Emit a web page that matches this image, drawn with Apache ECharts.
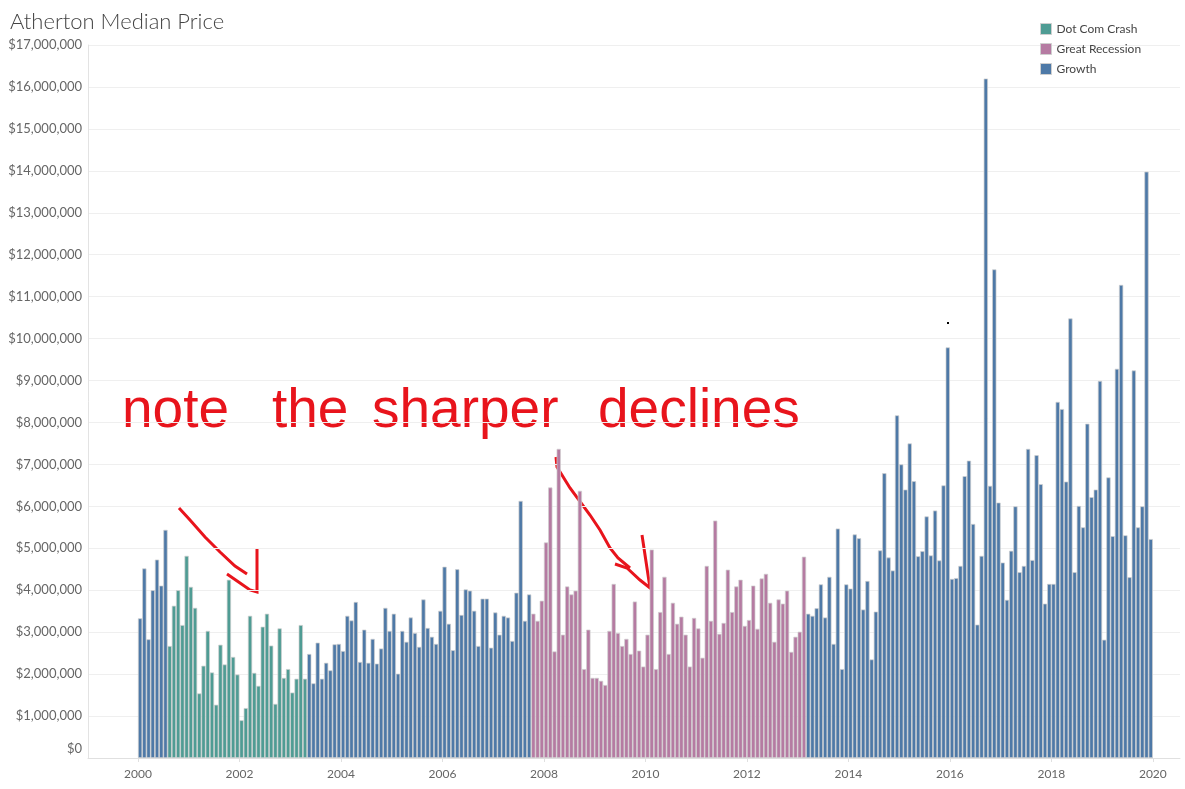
<!DOCTYPE html>
<html>
<head>
<meta charset="utf-8">
<script src="https://cdn.jsdelivr.net/npm/echarts@6/dist/echarts.min.js"></script>
<style>html,body{margin:0;padding:0;background:#fff}#c{width:1185px;height:789px}</style>
</head>
<body>
<div id="c"></div>
<script>
// Monthly median price (millions USD), Jan 2000 .. Dec 2019
const startYear = 2000;
const priceMillions = [
  3.33,4.52,2.83,4.00,4.73,4.11,5.44,2.67,3.63,4.00,3.17,4.82, // 2000
  4.08,3.58,1.54,2.20,3.03,2.04,1.27,2.70,2.23,4.25,2.41,1.99, // 2001
  0.90,1.19,3.39,2.03,1.72,3.13,3.44,2.68,1.29,3.09,1.91,2.12, // 2002
  1.56,1.89,3.17,1.89,2.48,1.78,2.75,1.89,2.27,2.09,2.71,2.72, // 2003
  2.55,3.39,3.28,3.72,2.29,3.06,2.27,2.84,2.25,2.61,3.58,3.03, // 2004
  3.44,2.01,3.03,2.77,3.35,2.98,2.65,3.78,3.10,2.89,2.72,3.51, // 2005
  4.56,3.20,2.57,4.50,3.41,4.02,3.99,3.51,2.67,3.80,3.80,2.63, // 2006
  3.47,2.94,3.39,3.35,2.79,3.94,6.13,3.27,3.90,3.44,3.27,3.75, // 2007
  5.14,6.45,2.54,7.37,2.94,4.09,3.90,3.99,6.37,2.12,3.06,1.91, // 2008
  1.91,1.84,1.74,3.03,4.15,2.98,2.67,2.84,2.48,3.73,2.56,2.18, // 2009
  2.94,4.97,2.12,3.48,4.32,2.48,3.70,3.20,3.37,2.94,2.18,3.34, // 2010
  3.09,2.39,4.58,3.27,5.66,2.96,3.22,4.49,3.48,4.09,4.25,3.15, // 2011
  3.29,4.11,3.08,4.28,4.39,3.70,2.77,3.78,3.68,3.99,2.53,2.89, // 2012
  3.01,4.80,3.44,3.39,3.57,4.14,3.35,4.32,2.72,5.47,2.12,4.14, // 2013
  4.04,5.33,5.24,3.54,4.22,2.35,3.49,4.95,6.79,4.78,4.47,8.17, // 2014
  7.00,6.40,7.50,6.60,4.81,4.93,5.76,4.83,5.90,4.71,6.50,9.79, // 2015
  4.27,4.29,4.58,6.72,7.09,5.58,3.18,4.82,16.20,6.49,11.65,6.09, // 2016
  4.66,3.77,4.94,6.00,4.43,4.58,7.37,4.72,7.22,6.53,3.68,4.15, // 2017
  4.15,8.49,8.32,6.59,10.48,4.43,6.01,5.50,7.97,6.22,6.40,8.99, // 2018
  2.82,6.69,5.29,9.28,11.28,5.31,4.31,9.24,5.50,6.00,13.98,5.22  // 2019
];
const periodNames = ['Dot Com Crash', 'Great Recession', 'Growth'];
const dotComSpan = ['2000-08', '2003-04'];
const recessionSpan = ['2007-10', '2013-02'];
const yearTicks = [2000,2002,2004,2006,2008,2010,2012,2014,2016,2018,2020];
const periodColors = ['#4f9c94', '#b57ba2', '#4e79a7'];

function monthIndex(s){ const [y,m] = s.split('-').map(Number); return (y-startYear)*12 + (m-1); }
const dc = dotComSpan.map(monthIndex), gr = recessionSpan.map(monthIndex);
const seriesData = [[],[],[]];
priceMillions.forEach((v,i)=>{
  const x = startYear + i/12 + 1/24;
  let k = 2;
  if (i>=dc[0] && i<=dc[1]) k = 0; else if (i>=gr[0] && i<=gr[1]) k = 1;
  seriesData[k].push([x, v*1e6]);
});

const red = '#e8141c';
const hand = '55px "Liberation Sans"';
const chart = echarts.init(document.getElementById('c'), null, {renderer:'canvas'});
chart.setOption({
  animation: false,
  title: {text:'Atherton Median Price', left:10, top:11, padding:0,
    textStyle:{fontFamily:'Lato', fontWeight:300, fontSize:22, color:'#444'}},
  legend: {orient:'vertical', left:1040, top:23, padding:0, itemWidth:11, itemHeight:11, itemGap:8, icon:'rect',
    data: periodNames, selectedMode:false,
    itemStyle:{borderColor:'#cfcfcf', borderWidth:1},
    textStyle:{fontSize:12, color:'#444', fontFamily:'Lato'}},
  grid: {left:88, right:5, top:45, bottom:31},
  xAxis: {type:'value', min:1999.015, max:2020.535,
    axisLine:{show:true, lineStyle:{color:'#e0e0e0'}},
    axisTick:{show:true, customValues:yearTicks, length:4, lineStyle:{color:'#e0e0e0'}},
    axisLabel:{customValues:yearTicks, formatter:v=>String(Math.round(v)), color:'#666', fontSize:12, margin:10, fontFamily:'Lato'},
    splitLine:{show:false}},
  yAxis: {type:'value', min:0, max:17e6, interval:1e6,
    axisLine:{show:true, lineStyle:{color:'#e3e3e3'}},
    axisTick:{show:false},
    axisLabel:{formatter:v=> v===0 ? '{z|$0}' : '$'+Math.round(v).toLocaleString('en-US'),
      rich:{z:{color:'#666', fontSize:13, fontFamily:'Lato', padding:[0,0,18,0]}},
      color:'#666', fontSize:13, margin:6, fontFamily:'Lato'},
    splitLine:{lineStyle:{color:'#efefef'}}},
  series: periodNames.map((n,k)=>({
    name:n, type:'bar', data:seriesData[k], barWidth:4.23, barGap:'-100%',
    itemStyle:{color:periodColors[k], borderColor:'#d0d0d0', borderWidth:0.7}
  })),
  graphic: [
    {type:'text', left:122, top:384, style:{text:'note', font:hand, fill:red}},
    {type:'text', left:272, top:384, style:{text:'the', font:hand, fill:red}},
    {type:'text', left:372, top:384, style:{text:'sharper', font:hand, fill:red}},
    {type:'text', left:598, top:384, style:{text:'declines', font:hand, fill:red}},
    {type:'polyline', shape:{points:[[179,508],[190,520],[205,537],[220,552],[235,566],[247,574]]}, style:{stroke:red, lineWidth:3, fill:null}},
    {type:'polyline', shape:{points:[[227,574],[240,583],[250,590],[257,592],[257,549]]}, style:{stroke:red, lineWidth:3, fill:null}},
    {type:'polyline', shape:{points:[[556,457],[557,467],[570,488],[590,515],[600,530],[610,548],[618,558],[630,568]]}, style:{stroke:red, lineWidth:3, fill:null}},
    {type:'polyline', shape:{points:[[615,564],[627,568],[640,580],[650,588],[642,535]]}, style:{stroke:red, lineWidth:3, fill:null}},
    {type:'rect', shape:{x:947, y:322, width:2, height:2}, style:{fill:'#000'}}
  ]
});
</script>
</body>
</html>
